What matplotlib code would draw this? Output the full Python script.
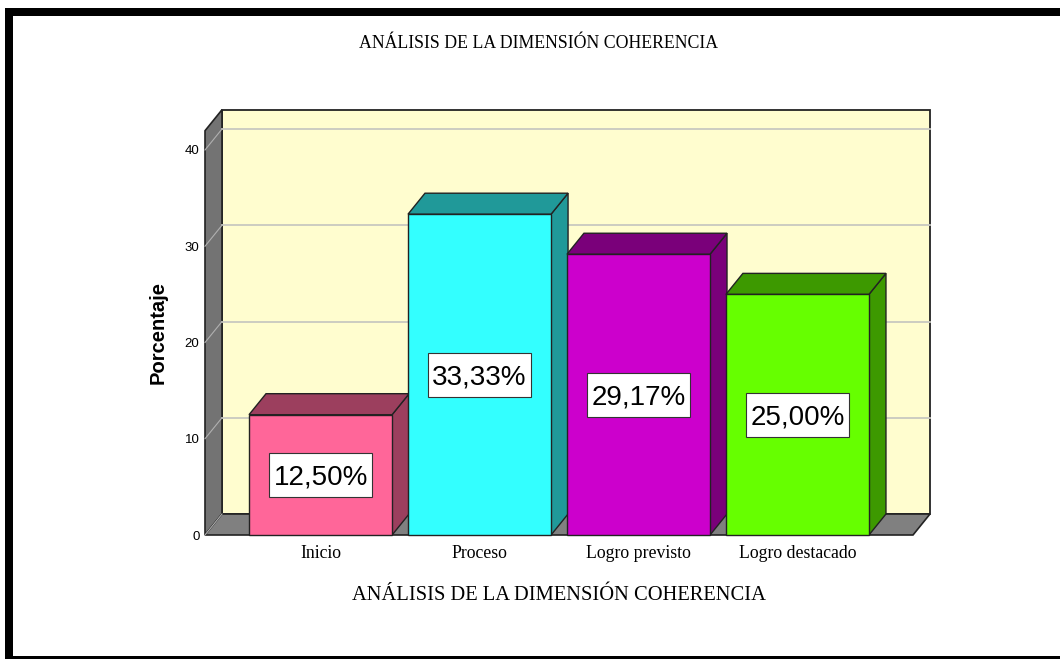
import matplotlib
matplotlib.use("Agg")
import matplotlib.pyplot as plt
from matplotlib.patches import Polygon, Rectangle
from matplotlib.lines import Line2D

categories = ["Inicio", "Proceso", "Logro previsto", "Logro destacado"]
values = [12.50, 33.33, 29.17, 25.00]
labels = ["12,50%", "33,33%", "29,17%", "25,00%"]
yticks = [0, 10, 20, 30, 40]
title = "ANÁLISIS DE LA DIMENSIÓN COHERENCIA"
xlabel = "ANÁLISIS DE LA DIMENSIÓN COHERENCIA"
ylabel = "Porcentaje"

front_colors = ["#FF6699", "#33FFFF", "#CC00CC", "#66FF00"]
dark_colors = ["#9C3F5E", "#209999", "#7A007A", "#3D9900"]

W, H = 1060, 659
fig = plt.figure(figsize=(W / 100, H / 100), dpi=100)

# frame
def px_rect(x0, y0, x1, y1, color):
    fig.add_artist(Rectangle((x0 / W, 1 - y1 / H), (x1 - x0) / W, (y1 - y0) / H,
                             transform=fig.transFigure, facecolor=color,
                             edgecolor="none", zorder=0))

px_rect(5, 8, W, 16, "black")
px_rect(5, 8, 13, H, "black")
px_rect(5, 656, W, H, "black")

x0, x1 = -0.727, 3.727
ymax = 42
ax = fig.add_axes([205 / W, 1 - 535 / H, 708 / W, (535 - 130.75) / H])
ax.set_xlim(x0, x1)
ax.set_ylim(0, ymax)
for s in ax.spines.values():
    s.set_visible(False)
ax.patch.set_visible(False)

pxx = 708 / (x1 - x0)
pxy = (535 - 130.75) / ymax
dx = 17 / pxx
dy = 21 / pxy

edge = "#222222"
# back wall
ax.add_patch(Polygon([(x0 + dx, dy), (x1 + dx, dy), (x1 + dx, ymax + dy), (x0 + dx, ymax + dy)],
                     closed=True, facecolor="#FFFDCF", edgecolor=edge, lw=1.3,
                     clip_on=False, zorder=1))
# left wall
ax.add_patch(Polygon([(x0, 0), (x0 + dx, dy), (x0 + dx, ymax + dy), (x0, ymax)],
                     closed=True, facecolor="#737373", edgecolor=edge, lw=1.2,
                     clip_on=False, zorder=1))
# floor
ax.add_patch(Polygon([(x0, 0), (x1, 0), (x1 + dx, dy), (x0 + dx, dy)],
                     closed=True, facecolor="#808080", edgecolor=edge, lw=1.2,
                     clip_on=False, zorder=1))
# gridlines
for t in yticks:
    if t > 0:
        ax.add_line(Line2D([x0 + dx, x1 + dx], [t + dy, t + dy], color="#C8C8C0",
                           lw=1.3, clip_on=False, zorder=2))
    ax.add_line(Line2D([x0, x0 + dx], [t, t + dy], color="#B0B0B0",
                       lw=0.8, clip_on=False, zorder=2))

bw = 0.9
box_w = 103 / pxx
box_h = 44 / pxy
for i, (v, fc, dc, lab) in enumerate(zip(values, front_colors, dark_colors, labels)):
    l, r = i - bw / 2, i + bw / 2
    ax.add_patch(Polygon([(r, 0), (r + dx, dy), (r + dx, v + dy), (r, v)], closed=True,
                         facecolor=dc, edgecolor=edge, lw=1.0, clip_on=False, zorder=3))
    ax.add_patch(Polygon([(l, v), (r, v), (r + dx, v + dy), (l + dx, v + dy)], closed=True,
                         facecolor=dc, edgecolor=edge, lw=1.0, clip_on=False, zorder=3))
    ax.add_patch(Rectangle((l, 0), bw, v, facecolor=fc, edgecolor=edge, lw=1.0,
                           clip_on=False, zorder=4))
    ax.add_patch(Rectangle((i - box_w / 2, v / 2 - box_h / 2), box_w, box_h,
                           facecolor="white", edgecolor="#333333", lw=0.8,
                           clip_on=False, zorder=5))
    ax.text(i, v / 2, lab, ha="center", va="center_baseline", fontsize=20,
            family="Liberation Sans", zorder=6)

ax.set_yticks(yticks)
ax.set_yticklabels([str(t) for t in yticks], family="Liberation Sans", fontsize=9.5)
ax.set_xticks(range(len(categories)))
ax.set_xticklabels(categories, family="Liberation Serif", fontsize=12.8)
ax.tick_params(axis="y", length=0, pad=4)
ax.tick_params(axis="x", length=0, pad=7.5)

ax.set_xlabel(xlabel, family="Liberation Serif", fontsize=14.8, labelpad=17)
ax.set_ylabel(ylabel, family="Liberation Sans", fontsize=14.5, fontweight="bold", labelpad=12)

fig.text(539 / W, 1 - 43 / H, title, ha="center", va="center",
         family="Liberation Serif", fontsize=12.8)

fig.savefig("out.png", dpi=100)
